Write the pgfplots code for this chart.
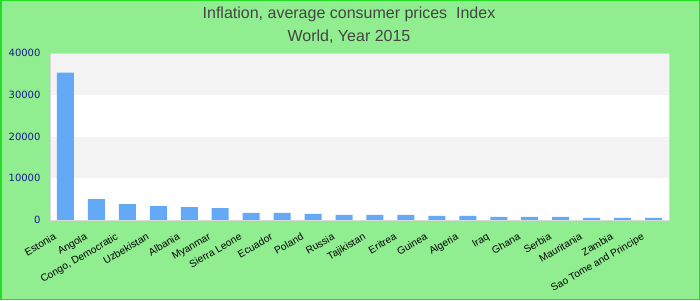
\documentclass[border=0pt]{standalone}
\usepackage{pgfplots}
\pgfplotsset{compat=1.18}
\usepackage{fontspec}
\setmainfont{Liberation Sans}
\newfontfamily\dejavu{DejaVu Sans}
\definecolor{bg}{HTML}{90EE90}
\definecolor{frame}{HTML}{22DD22}
\definecolor{barc}{HTML}{63A9F5}
\definecolor{band}{HTML}{F3F3F3}
\definecolor{tickc}{HTML}{1A1A8C}
\definecolor{titlec}{HTML}{444444}
\begin{document}
\begin{tikzpicture}[x=1pt,y=1pt]
\fill[bg] (0,0) rectangle (700,300);
\draw[frame, line width=1.5pt] (0.75,0.75) rectangle (699.25,299.25);
\node[text=titlec, font=\fontsize{16}{19}\selectfont, inner sep=0pt, anchor=base] at (349,281.7) {Inflation, average consumer prices\ \ Index};
\node[text=titlec, font=\fontsize{16}{19}\selectfont, inner sep=0pt, anchor=base] at (349,258.3) {World, Year 2015};
\begin{axis}[
  at={(50pt,80pt)}, anchor=south west,
  scale only axis, width=619pt, height=167pt,
  xmin=-0.5, xmax=19.5, ymin=0, ymax=40000,
  ytick={0,10000,20000,30000,40000},
  xtick={0,...,19},
  xticklabels={Estonia,Angola,{Congo, Democratic},Uzbekistan,Albania,Myanmar,Sierra Leone,Ecuador,Poland,Russia,Tajikistan,Eritrea,Guinea,Algeria,Iraq,Ghana,Serbia,Mauritania,Zambia,Sao Tome and Principe},
  major tick length=0pt,
  axis on top,
  axis line style={draw=black!15, line width=1pt},
  axis background/.style={fill=white},
  scaled y ticks=false,
  /pgf/number format/assume math mode=true,
  /pgf/number format/set thousands separator={},
  yticklabel style={text=tickc, font=\dejavu\fontsize{10}{12}\selectfont, xshift=-6pt},
  xticklabel style={text=black, font=\fontsize{10.2}{12}\selectfont, xshift=-12pt, yshift=-11pt, rotate=30, anchor=north east, inner sep=1pt},
  ybar, bar width=17pt,
]
\fill[band] (axis cs:-0.5,10000) rectangle (axis cs:19.5,20000);
\fill[band] (axis cs:-0.5,30000) rectangle (axis cs:19.5,40000);
\addplot[fill=barc, draw=none] coordinates {
(0,35300) (1,5030) (2,3830) (3,3350) (4,3110) (5,2870) (6,1680) (7,1680) (8,1440) (9,1200)
(10,1200) (11,1200) (12,960) (13,960) (14,720) (15,720) (16,720) (17,480) (18,480) (19,480)
};
\end{axis}
\end{tikzpicture}
\end{document}
